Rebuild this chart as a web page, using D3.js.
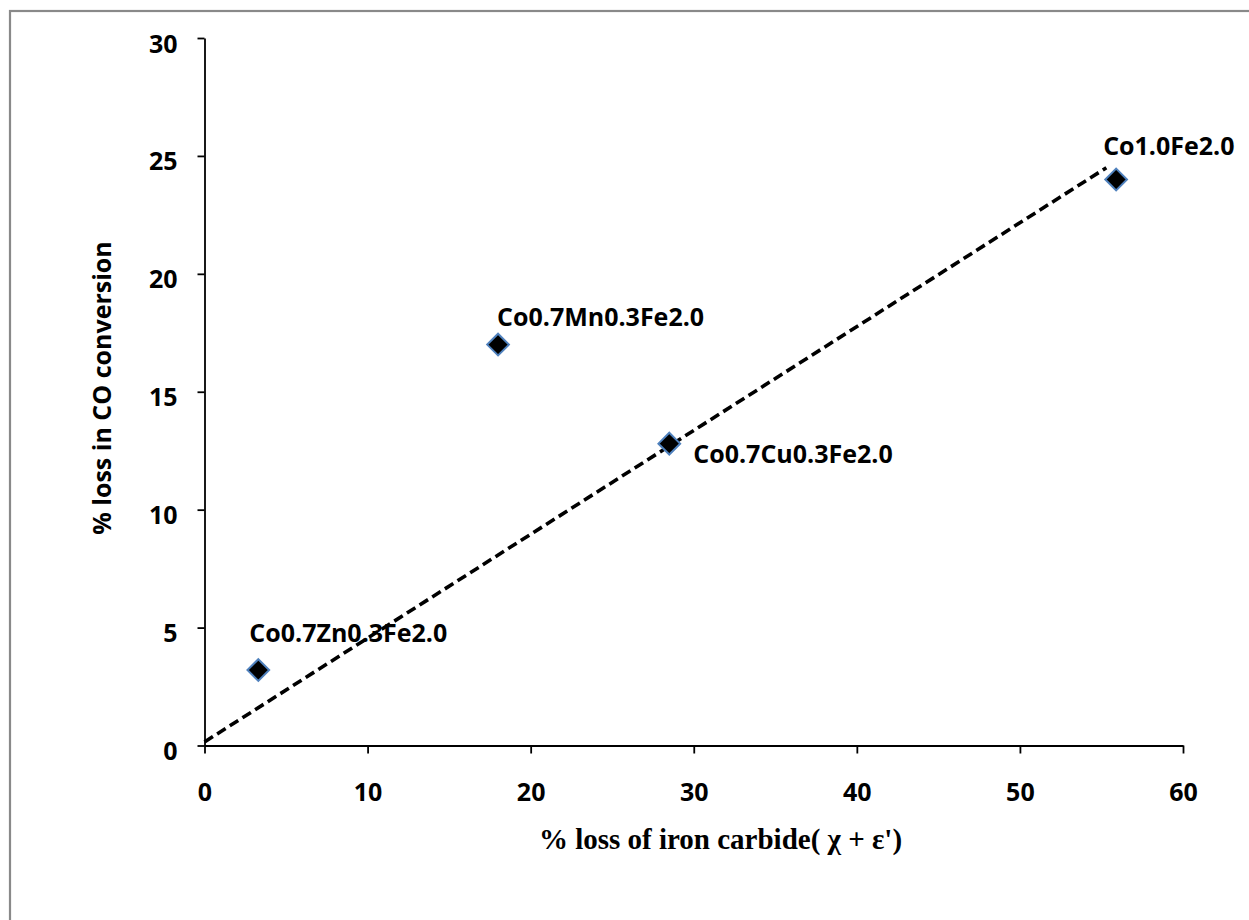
<!DOCTYPE html>
<html>
<head>
<meta charset="utf-8">
<script src="https://cdn.jsdelivr.net/npm/d3@7"></script>
<style>
  html, body { margin: 0; padding: 0; background: #fff; }
  svg { display: block; }
</style>
</head>
<body>
<svg id="chart" width="1249" height="920"></svg>
<script>
// ---- data ----
const sampleNames = ["Co0.7Zn0.3Fe2.0", "Co0.7Mn0.3Fe2.0", "Co0.7Cu0.3Fe2.0", "Co1.0Fe2.0"];
const carbideLoss = [3.3, 18.0, 28.5, 55.9];      // x: % loss of iron carbide
const conversionLoss = [3.2, 17.0, 12.8, 24.0];   // y: % loss in CO conversion
const trendX = [0, 55.3];
const trendY = [0.15, 24.5];
const xTicks = [0, 10, 20, 30, 40, 50, 60];
const yTicks = [0, 5, 10, 15, 20, 25, 30];
const xTitle = "% loss of iron carbide( \u03C7 + \u03B5')";
const yTitle = "% loss in CO conversion";

// ---- layout / style ----
const labelOffsets = [[-9, -28], [-1, -19], [24, 19], [-13, -25]];
const svg = d3.select("#chart");
const x = d3.scaleLinear().domain([0, 60]).range([204.5, 1183]);
const y = d3.scaleLinear().domain([0, 30]).range([745.5, 38]);
const sansBold = "'Open Sans', 'Liberation Sans', sans-serif";

// outer border
svg.append("rect").attr("x", 10).attr("y", 11).attr("width", 1400).attr("height", 1100)
  .attr("fill", "none").attr("stroke", "#898989").attr("stroke-width", 2.2);

// axes
const xAxis = d3.axisBottom(x).tickValues(xTicks).tickSize(8).tickSizeOuter(0).tickFormat(d3.format("d"));
const yAxis = d3.axisLeft(y).tickValues(yTicks).tickSize(7).tickSizeOuter(0).tickFormat(d3.format("d"));

const gx = svg.append("g").attr("transform", `translate(0,${y(0)})`).call(xAxis);
const gy = svg.append("g").attr("transform", `translate(${x(0)},0)`).call(yAxis);

[gx, gy].forEach(g => {
  g.select(".domain").attr("stroke", "#000").attr("stroke-width", 1.8);
  g.selectAll(".tick line").attr("stroke", "#000").attr("stroke-width", 1.8);
  g.selectAll(".tick text").attr("fill", "#000")
    .style("font-family", sansBold).style("font-weight", "700").style("font-size", "25px");
});
gx.selectAll(".tick text").attr("y", 55).attr("dy", null).attr("dominant-baseline", "auto");
gy.selectAll(".tick text").attr("x", -27).attr("dy", 14).attr("dominant-baseline", "auto");

// trend line
svg.append("path")
  .datum(trendX.map((d, i) => [d, trendY[i]]))
  .attr("d", d3.line().x(d => x(d[0])).y(d => y(d[1])))
  .attr("fill", "none").attr("stroke", "#000").attr("stroke-width", 3.6)
  .attr("stroke-dasharray", "10,5");

// points
const pts = sampleNames.map((n, i) => ({ name: n, x: carbideLoss[i], y: conversionLoss[i], off: labelOffsets[i] }));
svg.append("g").selectAll("path").data(pts).join("path")
  .attr("transform", d => `translate(${x(d.x)},${y(d.y)})`)
  .attr("d", d3.symbol().type(d3.symbolDiamond2).size(300))
  .attr("fill", "#000").attr("stroke", "#4F81BD").attr("stroke-width", 2);

// labels
svg.append("g").selectAll("text").data(pts).join("text")
  .attr("x", d => x(d.x) + d.off[0])
  .attr("y", d => y(d.y) + d.off[1])
  .text(d => d.name)
  .style("font-family", sansBold).style("font-weight", "700").style("font-size", "25px")
  .attr("fill", "#000");

// axis titles
svg.append("text").attr("x", 720.5).attr("y", 849).attr("text-anchor", "middle")
  .text(xTitle)
  .style("font-family", "'Liberation Serif', 'Times New Roman', serif")
  .style("font-weight", "700").style("font-size", "29px").attr("fill", "#000");

svg.append("text").attr("transform", "translate(111,388) rotate(-90)").attr("text-anchor", "middle")
  .text(yTitle)
  .style("font-family", sansBold).style("font-weight", "700").style("font-size", "25px")
  .attr("fill", "#000");
</script>
</body>
</html>
